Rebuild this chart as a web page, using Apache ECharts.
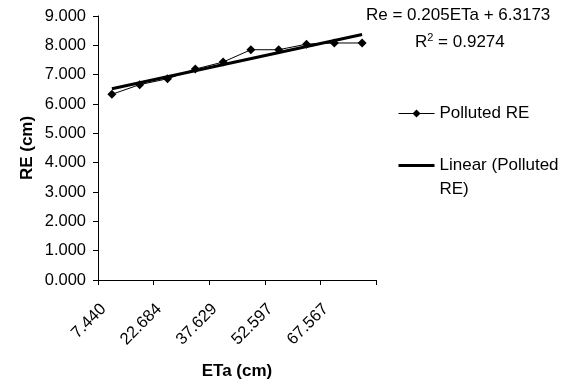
<!DOCTYPE html>
<html><head><meta charset="utf-8">
<script src="https://cdn.jsdelivr.net/npm/echarts@6/dist/echarts.min.js"></script>
<style>html,body{margin:0;padding:0;background:#fff}#c{width:572px;height:385px}</style>
</head><body><div id="c"></div>
<script>
const categories = ['7.440','15.062','22.684','30.157','37.629','45.113','52.597','60.082','67.567','75.050'];
const pollutedRE = [6.33, 6.66, 6.86, 7.19, 7.43, 7.85, 7.85, 8.04, 8.08, 8.08];
const linearTrend = [6.52, null, null, null, null, null, null, null, null, 8.37];
const yTicks = [0, 1, 2, 3, 4, 5, 6, 7, 8, 9];
const font = 'Liberation Sans, Arial, sans-serif';
const chart = echarts.init(document.getElementById('c'));
chart.setOption({
  animation: false,
  backgroundColor: '#fff',
  textStyle: {fontFamily: font, color: '#000'},
  grid: {left: 98, top: 16, width: 278, height: 265},
  xAxis: {
    type: 'category', data: categories, boundaryGap: true,
    name: 'ETa (cm)', nameLocation: 'middle', nameGap: 83,
    nameTextStyle: {fontFamily: font, fontSize: 17, fontWeight: 'bold', color: '#000'},
    axisLine: {lineStyle: {color: '#000', width: 1}},
    axisTick: {show: true, length: 5, lineStyle: {color: '#000'}},
    axisLabel: {interval: 1, rotate: 45, fontFamily: font, fontSize: 16.5, color: '#000', margin: 18, padding: [0, 12, 0, 0]}
  },
  yAxis: {
    type: 'value', min: yTicks[0], max: yTicks[yTicks.length - 1], interval: 1,
    name: 'RE (cm)', nameLocation: 'middle', nameGap: 62, nameRotate: 90,
    nameTextStyle: {fontFamily: font, fontSize: 17, fontWeight: 'bold', color: '#000'},
    axisLine: {show: true, lineStyle: {color: '#000', width: 1}},
    axisTick: {show: true, length: 5, lineStyle: {color: '#000'}},
    splitLine: {show: false},
    axisLabel: {fontFamily: font, fontSize: 16.5, color: '#000', margin: 12, formatter: v => v.toFixed(3)}
  },
  legend: {
    orient: 'vertical', left: 392, top: 96.5, itemWidth: 36, itemHeight: 10, itemGap: 4,
    textStyle: {fontFamily: font, fontSize: 17, color: '#000', lineHeight: 24},
    data: [
      {name: 'Polluted RE', lineStyle: {width: 1, color: '#000'}},
      {name: 'Linear (Polluted RE)', itemStyle: {opacity: 0}, lineStyle: {width: 3, color: '#000'}}
    ],
    formatter: n => n === 'Linear (Polluted RE)' ? '\nLinear (Polluted\nRE)' : n
  },
  series: [
    {
      name: 'Polluted RE', type: 'line', data: pollutedRE,
      symbol: 'diamond', symbolSize: 9,
      lineStyle: {color: '#000', width: 1},
      itemStyle: {color: '#000'}
    },
    {
      name: 'Linear (Polluted RE)', type: 'line', data: linearTrend, connectNulls: true,
      symbol: 'none', lineStyle: {color: '#000', width: 3},
      itemStyle: {color: '#000'}
    }
  ],
  graphic: [
    {type: 'text', left: 366, top: 7, style: {text: 'Re = 0.205ETa + 6.3173', font: '17px ' + font, fill: '#000'}},
    {type: 'text', left: 415, top: 32, style: {
      text: '{a|R}{s|2}{a| = 0.9274}',
      rich: {a: {font: '17px ' + font, fill: '#000', verticalAlign: 'bottom'}, s: {font: '11px ' + font, fill: '#000', verticalAlign: 'top', padding: [0,0,8,0]}}
    }}
  ]
});
</script></body></html>
